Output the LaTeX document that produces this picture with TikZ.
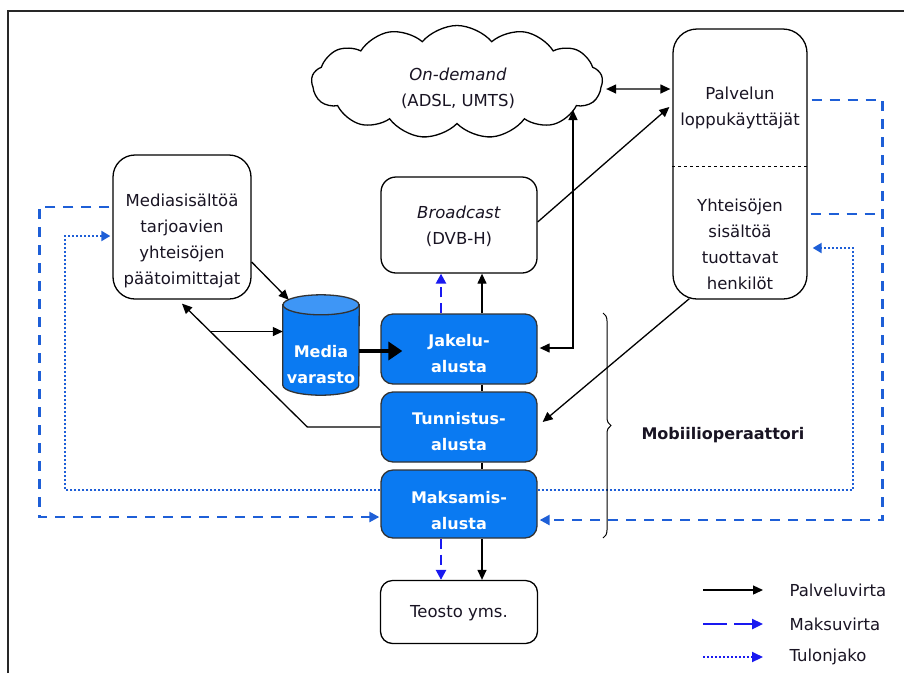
\documentclass[tikz,border=0pt]{standalone}
\usepackage{fontspec}
\setmainfont{DejaVu Sans}
\usetikzlibrary{arrows.meta,shapes.symbols,calc,decorations.pathreplacing}
\definecolor{boxblue}{RGB}{10,122,242}
\definecolor{cyltop}{RGB}{62,150,246}
\definecolor{paycol}{RGB}{30,95,215}
\definecolor{purecol}{RGB}{25,25,240}
\definecolor{txt}{RGB}{25,20,35}
\definecolor{framecol}{RGB}{40,40,40}
\begin{document}
\begin{tikzpicture}[x=1pt,y=-1pt,
  every node/.style={font=\fontsize{16.5}{26}\selectfont, text=txt},
  wbox/.style={draw, line width=1.3pt, fill=white, rounded corners=#1, inner sep=0pt, align=center},
  wbox/.default=12pt,
  bbox/.style={draw=black!80, line width=1.3pt, fill=boxblue, rounded corners=12pt, minimum width=156pt, inner sep=0pt},
  btext/.style={align=center, text=white, font=\fontsize{16}{26}\selectfont\bfseries},
  tnode/.style={align=center, inner sep=0pt},
  arr/.style={line width=1.3pt, -{Triangle[length=10pt,width=9pt]}},
  arrboth/.style={line width=1.3pt, {Triangle[length=10pt,width=9pt]}-{Triangle[length=10pt,width=9pt]}},
  pay/.style={paycol, line width=2.4pt, dash pattern=on 10pt off 8pt, -{Triangle[length=10pt,width=10pt]}},
  paynt/.style={paycol, line width=2.4pt, dash pattern=on 10pt off 8pt},
  payshort/.style={purecol, line width=2.4pt, dash pattern=on 10pt off 6pt, -{Triangle[length=10pt,width=10pt]}},
  rev/.style={paycol, line width=2pt, dash pattern=on 2pt off 2pt, -{Triangle[length=9pt,width=10pt]}},
  legpay/.style={purecol, line width=2.4pt, dash pattern=on 24pt off 7pt, -{Triangle[length=11pt,width=10pt]}},
  legrev/.style={purecol, line width=2pt, dash pattern=on 2pt off 2pt, -{Triangle[length=11pt,width=10pt]}},
]
\useasboundingbox (0,0) rectangle (904,673);
\draw[framecol, line width=2pt] (8,673) -- (8,11) -- (904,11);

% nodes
\node[cloud, cloud puffs=13, cloud puff arc=100, aspect=2.6, draw, line width=1.3pt, fill=white,
      minimum width=291pt, minimum height=113pt, inner sep=0pt] (cloud) at (457,82) {};
\node[tnode] (cloudt) at (458,88) {\textit{On-demand}\\(ADSL, UMTS)};

\node[wbox=24pt, minimum width=134pt, minimum height=270pt] (pbox) at (740,164) {};
\draw[dashed, line width=0.9pt] (pbox.west |- 0,166) -- (pbox.east |- 0,166);
\node[tnode] (pt1) at (740,108) {Palvelun\\loppukäyttäjät};
\node[tnode] (pt2) at (740,244) {Yhteisöjen\\sisältöä\\tuottavat\\henkilöt};

\node[wbox=22pt, minimum width=138pt, minimum height=144pt] (mbox) at (182,227) {};
\node[tnode] (mboxt) at (182,241) {Mediasisältöä\\tarjoavien\\yhteisöjen\\päätoimittajat};

\node[wbox=15pt, minimum width=156pt, minimum height=96pt] (bcast) at (459,225) {};
\node[tnode] (bcastt) at (459,226) {\textit{Broadcast}\\(DVB-H)};

\node[wbox=12pt, minimum width=157pt, minimum height=63pt] (teo) at (459,612) {};
\node[tnode] (teot) at (459,613) {Teosto yms.};

\node[bbox, minimum height=70pt] (jak) at (459,349) {};
\node[btext] (jakt) at (459,354) {Jakelu-\\alusta};
\node[bbox, minimum height=70pt] (tun) at (459,427) {};
\node[btext] (tunt) at (459,432) {Tunnistus-\\alusta};
\node[bbox, minimum height=68pt] (mak) at (459,504) {};
\node[btext] (makt) at (459,511) {Maksamis-\\alusta};

% cylinder
\node[minimum width=76pt, minimum height=100pt, inner sep=0pt] (cyl) at (321,345) {};
\path[fill=boxblue, draw=black!80, line width=1.3pt] ($(cyl.north west)+(0,10)$) -- ($(cyl.south west)+(0,-10)$)
   arc[start angle=180, end angle=0, x radius=38, y radius=10] -- ($(cyl.north east)+(0,10)$) -- cycle;
\draw[fill=cyltop, draw=black!80, line width=1.3pt] ($(cyl.north)+(0,10)$) ellipse[x radius=38, y radius=10];
\node[btext] (cylt) at (321,365) {Media\\varasto};

% connectors
\draw[arrboth] ($(cloud.east)+(3,7)$) -- ($(pbox.west)+(-2,-75)$);
\draw[arr] ($(bcast.east)+(0,-3)$) -- ($(pbox.west)+(-3,-57)$);
\coordinate (odin) at (573,110);
\draw[arrboth] ($(jak.east)+(2,-1)$) -| (odin);
\draw[arr] ($(pbox.south west)+(17,-1)$) -- ($(tun.east)+(5,-5)$);
\draw[arr] ($(mbox.east)+(0,35)$) -- ($(cyl.north west)+(6,5)$);
\coordinate (bend) at ($(tun.west)+(-73,0)$);
\coordinate (mtip) at ($(mbox.south)+(0,4)$);
\coordinate (br) at ($(bend)!0.774!(mtip)$);
\draw[arr] (tun.west) -- (bend) -- (mtip);
\draw[arr] (br) -- (br -| cyl.west);
\draw[line width=4.5pt, -{Triangle[length=14pt,width=18pt]}] ($(cyl.east)+(0,6)$) -- ($(jak.west)+(22,2)$);
\draw[arr] ($(jak.north)+(23,0)$) -- ($(bcast.south)+(23,0)$);
\draw[payshort] ($(jak.north)+(-18,0)$) -- ($(bcast.south)+(-18,0)$);
\draw[line width=1.3pt] ($(jak.south)+(23,0)$) -- ($(tun.north)+(23,0)$);
\draw[line width=1.3pt] ($(tun.south)+(23,0)$) -- ($(mak.north)+(23,0)$);
\draw[arr] ($(mak.south)+(23,0)$) -- ($(teo.north)+(23,0)$);
\draw[payshort] ($(mak.south)+(-18,0)$) -- ($(teo.north)+(-18,0)$);

\draw[pay] ($(mbox.west)+(-3,-20)$) -| ($(mak.west)+(-341,13)$) -- ($(mak.west)+(-1,13)$);
\draw[rev] ($(mak.west)+(0,-14)$) -| ($(mbox.west)+(-47,9)$) -- ($(mbox.west)+(-2,9)$);
\draw[rev] ($(mak.east)+(0,-14)$) -| ($(pbox.east)+(45,84)$) -- ($(pbox.east)+(5,84)$);
\draw[pay] ($(pbox.east)+(4,-64)$) -| ($(mak.east)+(345,16)$) -- ($(mak.east)+(2,16)$);
\draw[paynt] ($(pbox.east)+(3,50)$) -- ($(pbox.east)+(75,50)$);

% brace and operator label
\draw[line width=1pt, decorate, decoration={brace, amplitude=8pt}] (603,313) -- (603,538);
\node[anchor=west, font=\fontsize{16}{26}\selectfont\bfseries] (mob) at (638,435) {Mobiilioperaattori};

% legend
\node[anchor=west] (lg1) at (786,590) {Palveluvirta};
\node[anchor=west] (lg2) at (786,624) {Maksuvirta};
\node[anchor=west] (lg3) at (786,657) {Tulonjako};
\draw[arr] ($(lg1.west)+(-83,0)$) -- ($(lg1.west)+(-23,0)$);
\draw[legpay] ($(lg2.west)+(-83,0)$) -- ($(lg2.west)+(-23,0)$);
\draw[legrev] ($(lg3.west)+(-83,0)$) -- ($(lg3.west)+(-23,0)$);
\end{tikzpicture}
\end{document}
